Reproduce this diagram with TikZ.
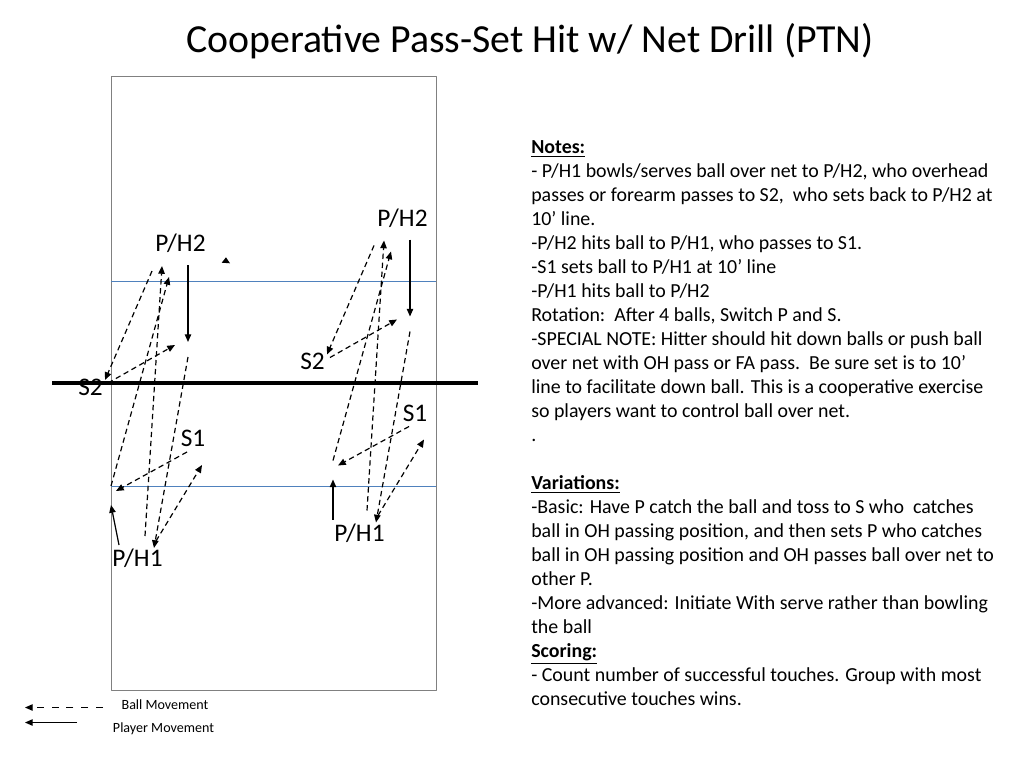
\documentclass[tikz,border=0pt]{standalone}
\usepackage{fontspec}
\setmainfont{Carlito}
\usetikzlibrary{arrows.meta}

\definecolor{courtgray}{RGB}{128,128,128}
\definecolor{tenline}{RGB}{79,129,189}

\tikzset{
  ball/.style={->,dash pattern=on 3.8pt off 2.6pt,line width=0.85pt},
  player/.style={->,line width=0.85pt},
  plabel/.style={anchor=base,inner sep=0pt,font=\fontsize{18}{21}\selectfont},
  legend/.style={anchor=base,inner sep=0pt,font=\fontsize{10}{12}\selectfont},
}

\begin{document}
\begin{tikzpicture}[x=0.025cm,y=-0.025cm,>={Triangle[length=5.5pt,width=4.6pt]},line join=round]
  \useasboundingbox (0,0) rectangle (1024,768);
  % --- Title ---
  \node[anchor=base,inner sep=0pt,font=\fontsize{28.3}{34}\selectfont] (title) at (530,52.5)
    {Cooperative Pass-Set Hit w/ Net Drill (PTN)};
  % --- Court, 10' lines and net ---
  \draw[courtgray,line width=0.7pt] (111,76) rectangle (436,690);
  \draw[tenline,line width=0.75pt] (111,281.5) -- (436,281.5);
  \draw[tenline,line width=0.75pt] (111,486.5) -- (436,486.5);
  \draw[line width=3.3pt] (52,383) -- (478,383);
  % --- Two groups (left, right) ---
  \foreach \s/\dx/\dy/\px in {L/0/0/119, R/222/-25.5/111}{
    \begin{scope}[shift={(\dx,\dy)}]
      \node[plabel] (\s-h2) at (180.5,251.5) {P/H2};
      \node[plabel] (\s-s2) at (90.5,395) {S2};
      \node[plabel] (\s-s1) at (193,446.5) {S1};
      \node[plabel] (\s-h1) at (137.5,566.5) {P/H1};
      % player movement
      \coordinate (\s-h2a) at (188,265);  \coordinate (\s-h2b) at (188,342);
      \coordinate (\s-h1a) at (\px,545);  \coordinate (\s-h1b) at (111,505);
      \draw[player] (\s-h2a) -- (\s-h2b);
      \draw[player] (\s-h1a) -- (\s-h1b);
      % ball movement
      \coordinate (\s-a1) at (145,536);   \coordinate (\s-a2) at (162,266);
      \coordinate (\s-b1) at (188,357);   \coordinate (\s-b2) at (154,548);
      \coordinate (\s-c1) at (111,486);   \coordinate (\s-c2) at (169,277);
      \coordinate (\s-d1) at (152,271);   \coordinate (\s-d2) at (105,380);
      \coordinate (\s-e1) at (108,383);   \coordinate (\s-e2) at (175,345);
      \coordinate (\s-f1) at (156,541);   \coordinate (\s-f2) at (202,465);
      \coordinate (\s-g1) at (187,452);   \coordinate (\s-g2) at (116,491);
      \foreach \l in {a,b,c,d,e,f,g}
        \draw[ball] (\s-\l1) -- (\s-\l2);
    \end{scope}
  }
  \fill (226,257.3) -- (221.7,262.7) -- (230,263.3) -- cycle;
  % --- Legend ---
  \coordinate (bm0) at (103,707.5);  \coordinate (bm1) at (25,707.5);
  \coordinate (pm0) at (77,722.5);   \coordinate (pm1) at (25,722.5);
  \draw[->,dash pattern=on 5pt off 5.5pt,line width=0.85pt] (bm0) -- (bm1);
  \draw[player] (pm0) -- (pm1);
  \node[legend] (bm) at (165,709) {Ball Movement};
  \node[legend] (pm) at (163.5,732) {Player Movement};
  % --- Notes ---
  \node[anchor=north west,align=left,inner sep=0pt,font=\fontsize{14.15}{17.07}\selectfont] (notes) at (531,140.5) {%
    \underline{\textbf{Notes:}}\\
    - P/H1 bowls/serves ball over net to P/H2, who overhead\\
    passes or forearm passes to S2,\ \ who sets back to P/H2 at\\
    10’ line.\\
    -P/H2 hits ball to P/H1, who passes to S1.\\
    -S1 sets ball to P/H1 at 10’ line\\
    -P/H1 hits ball to P/H2\\
    Rotation:\ \ After 4 balls, Switch P and S.\\
    -SPECIAL NOTE: Hitter should hit down balls or push ball\\
    over net with OH pass or FA pass.\ \ Be sure set is to 10’\\
    line to facilitate down ball. This is a cooperative exercise\\
    so players want to control ball over net.\\
    .\\
    \mbox{}\\
    \underline{\textbf{Variations:}}\\
    -Basic: Have P catch the ball and toss to S who\ \ catches\\
    ball in OH passing position, and then sets P who catches\\
    ball in OH passing position and OH passes ball over net to\\
    other P.\\
    -More advanced: Initiate With serve rather than bowling\\
    the ball\\
    \underline{\textbf{Scoring:}}\\
    - Count number of successful touches. Group with most\\
    consecutive touches wins.};
\end{tikzpicture}
\end{document}
